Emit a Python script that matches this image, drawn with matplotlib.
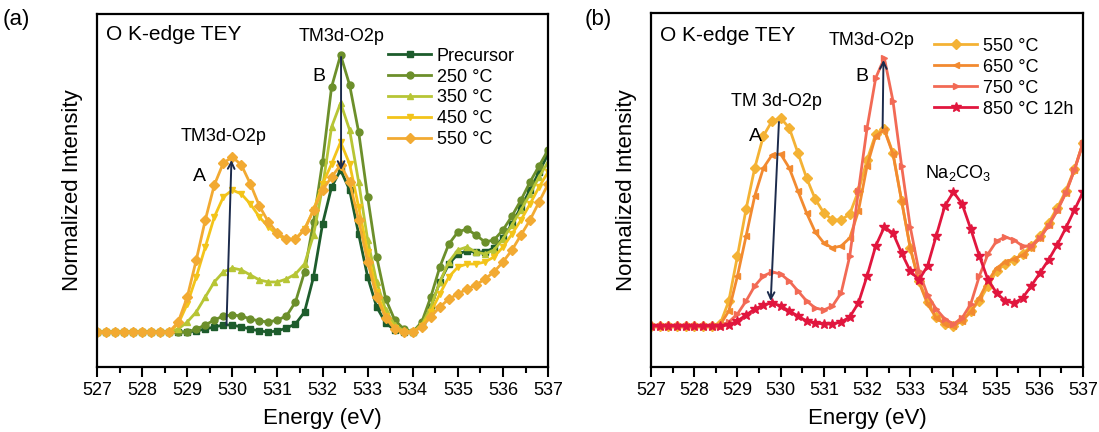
import numpy as np
import matplotlib
matplotlib.use("Agg")
import matplotlib.pyplot as plt
from matplotlib.ticker import MultipleLocator

plt.rcParams['font.family'] = ['Liberation Sans', 'DejaVu Sans']
plt.rcParams['mathtext.default'] = 'regular'

# energy grid (eV), 0.2 eV steps
energy = np.linspace(527.0, 537.0, 51)

# ---- panel (a): O K-edge TEY, precursor -> 550 C ----
precursor = [0, 0, 0, 0, 0, 0, 0, 0, 0, 0,
             0.0, 0.01, 0.03, 0.05, 0.07, 0.07, 0.05, 0.03, 0.01, 0.0,
             0.01, 0.04, 0.08, 0.2, 0.55, 1.08, 1.45, 1.62, 1.42, 0.98,
             0.55, 0.25, 0.09, 0.02, 0.0, 0.0, 0.06, 0.25, 0.5, 0.68,
             0.78, 0.81, 0.8, 0.8, 0.84, 0.94, 1.08, 1.25, 1.42, 1.6, 1.78]
a_250 = [0, 0, 0, 0, 0, 0, 0, 0, 0, 0,
         0.0, 0.03, 0.07, 0.12, 0.16, 0.17, 0.16, 0.13, 0.11, 0.1,
         0.12, 0.16, 0.3, 0.6, 1.1, 1.7, 2.45, 2.77, 2.47, 2.0,
         1.35, 0.75, 0.33, 0.12, 0.03, 0.0, 0.1, 0.35, 0.65, 0.88,
         1.0, 1.03, 0.97, 0.9, 0.92, 1.02, 1.16, 1.32, 1.5, 1.66, 1.82]
a_350 = [0, 0, 0, 0, 0, 0, 0, 0, 0.0, 0.03,
         0.1, 0.2, 0.35, 0.5, 0.6, 0.64, 0.62, 0.57, 0.52, 0.5,
         0.5, 0.53, 0.58, 0.68, 0.97, 1.45, 2.05, 2.29, 2.02, 1.5,
         0.92, 0.5, 0.22, 0.07, 0.01, 0.0, 0.07, 0.25, 0.5, 0.7,
         0.82, 0.85, 0.8, 0.78, 0.82, 0.93, 1.07, 1.22, 1.38, 1.55, 1.7]
a_450 = [0, 0, 0, 0, 0, 0, 0, 0, 0.0, 0.08,
         0.28, 0.55, 0.85, 1.15, 1.35, 1.42, 1.38, 1.28, 1.15, 1.05,
         0.97, 0.92, 0.93, 1.03, 1.22, 1.48, 1.68, 1.9, 1.68, 1.25,
         0.8, 0.4, 0.16, 0.04, 0.0, 0.0, 0.06, 0.2, 0.38, 0.55,
         0.65, 0.68, 0.68, 0.7, 0.75, 0.85, 0.98, 1.12, 1.28, 1.45, 1.6]
a_550 = [0, 0, 0, 0, 0, 0, 0, 0, 0.0, 0.1,
         0.35, 0.72, 1.12, 1.47, 1.69, 1.75, 1.67, 1.48, 1.26, 1.1,
         0.99, 0.93, 0.93, 1.02, 1.22, 1.42, 1.55, 1.67, 1.5, 1.12,
         0.7, 0.35, 0.14, 0.03, 0.0, 0.0, 0.05, 0.15, 0.25, 0.33,
         0.38, 0.43, 0.47, 0.53, 0.6, 0.7, 0.82, 0.97, 1.12, 1.3, 1.48]

labels_a = ['Precursor', '250 °C', '350 °C', '450 °C', '550 °C']
series_a = [precursor, a_250, a_350, a_450, a_550]
colors_a = ['#1d5c2c', '#6c8f2b', '#b7c535', '#f3c41a', '#f2aa32']
markers_a = ['s', 'o', '^', 'v', 'D']

# ---- panel (b): 550 C -> 850 C 12h ----
b_550 = [0, 0, 0, 0, 0, 0, 0, 0, 0.02, 0.25,
         0.7, 1.17, 1.58, 1.9, 2.05, 2.08, 1.98, 1.73, 1.48, 1.27,
         1.13, 1.06, 1.06, 1.12, 1.35, 1.66, 1.92, 1.97, 1.73, 1.25,
         0.78, 0.45, 0.24, 0.09, 0.02, 0.0, 0.06, 0.15, 0.25, 0.4,
         0.55, 0.62, 0.66, 0.72, 0.8, 0.9, 1.03, 1.18, 1.35, 1.57, 1.83]
b_650 = [0, 0, 0, 0, 0, 0, 0, 0, 0.01, 0.15,
         0.5, 0.9, 1.3, 1.58, 1.71, 1.72, 1.58, 1.35, 1.13, 0.94,
         0.83, 0.78, 0.8, 0.88, 1.15, 1.6, 1.9, 1.96, 1.72, 1.25,
         0.78, 0.44, 0.22, 0.08, 0.02, 0.0, 0.05, 0.14, 0.28, 0.45,
         0.58, 0.64, 0.67, 0.71, 0.78, 0.88, 1.01, 1.16, 1.33, 1.56, 1.84]
b_750 = [0, 0, 0, 0, 0, 0, 0, 0, 0.0, 0.04,
         0.12, 0.25, 0.4, 0.5, 0.54, 0.52, 0.45, 0.35, 0.25, 0.18,
         0.16, 0.2, 0.33, 0.7, 1.35, 1.98, 2.48, 2.68, 2.25, 1.6,
         0.99, 0.55, 0.31, 0.17, 0.07, 0.02, 0.08, 0.22, 0.5, 0.72,
         0.85, 0.89, 0.86, 0.8, 0.8, 0.88, 1.0, 1.15, 1.33, 1.56, 1.83]
b_850 = [0, 0, 0, 0, 0, 0, 0, 0, 0.0, 0.01,
         0.05, 0.11, 0.17, 0.21, 0.23, 0.2, 0.15, 0.1, 0.05, 0.03,
         0.02, 0.02, 0.04, 0.09, 0.23, 0.5, 0.8, 0.99, 0.93, 0.73,
         0.55, 0.46, 0.6, 0.9, 1.2, 1.34, 1.22, 0.97, 0.7, 0.46,
         0.33, 0.25, 0.23, 0.28, 0.4, 0.53, 0.66, 0.81, 0.98, 1.16, 1.34]

labels_b = ['550 °C', '650 °C', '750 °C', '850 °C 12h']
series_b = [b_550, b_650, b_750, b_850]
colors_b = ['#f4b234', '#f28a30', '#f26a55', '#e1163e']
markers_b = ['D', '<', '>', '*']

arrow_color = '#1c2b4c'


def style_axis(ax, ylim):
    ax.set_xlim(527, 537)
    ax.set_ylim(*ylim)
    ax.xaxis.set_major_locator(MultipleLocator(1))
    ax.xaxis.set_minor_locator(MultipleLocator(0.5))
    ax.tick_params(axis='x', which='major', direction='out', length=7,
                   width=1.5, labelsize=13, pad=4)
    ax.tick_params(axis='x', which='minor', direction='out', length=4,
                   width=1.5)
    ax.set_yticks([])
    for sp in ax.spines.values():
        sp.set_linewidth(1.6)
    ax.set_xlabel('Energy (eV)', fontsize=16, labelpad=6)
    ax.set_ylabel('Normalized Intensity', fontsize=16, labelpad=10)


def plot_series(ax, series, labels, colors, markers):
    for y, lab, c, m in zip(series, labels, colors, markers):
        ms = 7 if m == '*' else 5
        ax.plot(energy, y, color=c, marker=m, markersize=ms,
                linewidth=2.0, label=lab)


def arrow(ax, start, end):
    ax.annotate('', xy=end, xytext=start,
                arrowprops=dict(arrowstyle='->', color=arrow_color,
                                lw=1.4, shrinkA=0, shrinkB=0,
                                mutation_scale=12))


fig = plt.figure(figsize=(10.99, 4.32), dpi=100)
ax1 = fig.add_axes([0.0883, 0.1505, 0.4104, 0.8171])
ax2 = fig.add_axes([0.5924, 0.1505, 0.3931, 0.8194])

# panel (a)
plot_series(ax1, series_a, labels_a, colors_a, markers_a)
style_axis(ax1, (-0.35, 3.18))
ax1.text(527.2, 2.97, 'O K-edge TEY', fontsize=15, va='center', ha='left')
ax1.text(529.8, 1.95, 'TM3d-O2p', fontsize=13, ha='center', va='center')
ax1.text(529.28, 1.55, 'A', fontsize=14, ha='center', va='center')
ax1.text(532.42, 2.95, 'TM3d-O2p', fontsize=13, ha='center', va='center')
ax1.text(531.91, 2.55, 'B', fontsize=14, ha='center', va='center')
arrow(ax1, (529.87, 0.07), (529.98, 1.72))
arrow(ax1, (532.41, 2.75), (532.41, 1.62))
ax1.legend(loc='upper left', bbox_to_anchor=(0.645, 0.905), frameon=False,
           fontsize=13, handlelength=2.4, handletextpad=0.3,
           labelspacing=0.22, borderpad=0, borderaxespad=0)
fig.text(0.002, 0.955, '(a)', fontsize=16, va='center', ha='left')

# panel (b)
plot_series(ax2, series_b, labels_b, colors_b, markers_b)
style_axis(ax2, (-0.41, 3.13))
ax2.text(527.2, 2.91, 'O K-edge TEY', fontsize=15, va='center', ha='left')
ax2.text(529.91, 2.24, 'TM 3d-O2p', fontsize=13, ha='center', va='center')
ax2.text(529.41, 1.89, 'A', fontsize=14, ha='center', va='center')
ax2.text(532.11, 2.86, 'TM3d-O2p', fontsize=13, ha='center', va='center')
ax2.text(531.88, 2.49, 'B', fontsize=14, ha='center', va='center')
ax2.text(534.11, 1.53, 'Na$_2$CO$_3$', fontsize=13, ha='center',
         va='center')
arrow(ax2, (529.96, 2.04), (529.77, 0.25))
arrow(ax2, (532.36, 1.98), (532.38, 2.66))
ax2.legend(loc='upper left', bbox_to_anchor=(0.655, 0.93), frameon=False,
           fontsize=13, handlelength=2.4, handletextpad=0.3,
           labelspacing=0.22, borderpad=0, borderaxespad=0)
fig.text(0.532, 0.955, '(b)', fontsize=16, va='center', ha='left')

fig.savefig('out.png', dpi=100)
